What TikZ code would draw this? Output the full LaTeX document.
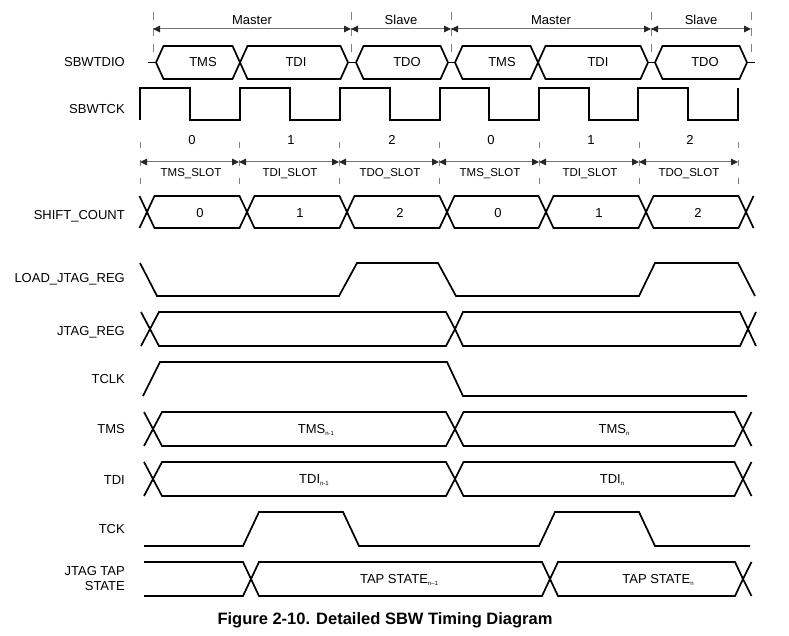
\documentclass[tikz,border=0pt]{standalone}
\usepackage{fontspec}
\setmainfont{Liberation Sans}
\usetikzlibrary{arrows.meta}
\newcommand{\bushex}[5]{%
  \draw[sig] (#1,{(#3+#4)/2}) -- ({#1+#5},#3) -- ({#2-#5},#3) -- (#2,{(#3+#4)/2}) -- ({#2-#5},#4) -- ({#1+#5},#4) -- cycle;}
\newcommand{\busl}[4]{% left arms at centre #1
  \draw[sig] ({#1-#4},#2) -- (#1,{(#2+#3)/2}) -- ({#1-#4},#3);}
\newcommand{\busr}[4]{% right arms at centre #1
  \draw[sig] ({#1+#4},#2) -- (#1,{(#2+#3)/2}) -- ({#1+#4},#3);}
\newcommand{\sbs}[1]{\raisebox{-2.2pt}{\fontsize{6}{6}\selectfont #1}}
\begin{document}
\begin{tikzpicture}[x=1pt,y=-1pt,
  sig/.style={line width=1.7pt, black, line join=miter},
  dashv/.style={gray, line width=0.9pt, dash pattern=on 8pt off 8pt},
  dashs/.style={gray, line width=0.9pt, dash pattern=on 6pt off 12pt},
  dim/.style={line width=1pt, draw=black!55, {Triangle[length=7pt,width=6.5pt,black!85]}-{Triangle[length=7pt,width=6.5pt,black!85]}},
  lbl/.style={anchor=east, font=\fontsize{13}{15}\selectfont, inner sep=0pt, text depth=0pt},
  txt/.style={font=\fontsize{13}{15}\selectfont, inner sep=0pt, text depth=0pt},
  smalltxt/.style={font=\fontsize{11.5}{13}\selectfont, inner sep=0pt, text depth=0pt}]
\useasboundingbox (0,0) rectangle (789,636);

% ---------- row labels ----------
\node[lbl] (lSBWTDIO) at (125,62) {SBWTDIO};
\node[lbl] (lSBWTCK) at (125,109) {SBWTCK};
\node[lbl] (lSHIFT) at (125,215) {SHIFT\_COUNT};
\node[lbl] (lLOAD) at (125,278) {LOAD\_JTAG\_REG};
\node[lbl] (lJREG) at (125,331) {JTAG\_REG};
\node[lbl] (lTCLK) at (125,379) {TCLK};
\node[lbl] (lTMS) at (125,429) {TMS};
\node[lbl] (lTDI) at (125,480) {TDI};
\node[lbl] (lTCK) at (125,529) {TCK};
\node[lbl, align=right] (lTAP) at (125,578) {JTAG TAP\\STATE};

% ---------- Master / Slave dimension ----------
\foreach \x in {153,351,451,651,751} \draw[dashv] (\x,12) -- (\x,54);
\draw[dim] (153,29) -- (351,29);
\draw[dim] (351,29) -- (451,29);
\draw[dim] (451,29) -- (651,29);
\draw[dim] (651,29) -- (751,29);
\node[txt] (m1) at (252,20) {Master};
\node[txt] (s1) at (401,20) {Slave};
\node[txt] (m2) at (551,20) {Master};
\node[txt] (s2) at (701,20) {Slave};

% ---------- SBWTDIO ----------
\draw[sig] (148,62.5) -- (156,62.5);
\bushex{156}{240}{46}{79}{7.5}
\bushex{240}{348}{46}{79}{7.5}
\draw[sig] (348,62.5) -- (356,62.5);
\bushex{356}{448}{46}{79}{7.5}
\draw[sig] (448,62.5) -- (455,62.5);
\bushex{455}{538}{46}{79}{7.5}
\bushex{538}{648}{46}{79}{7.5}
\draw[sig] (648,62.5) -- (655,62.5);
\bushex{655}{747}{46}{79}{7.5}
\draw[sig] (747,62.5) -- (755,62.5);
\node[txt] (d1) at (203,62) {TMS};
\node[txt] (d2) at (296,62) {TDI};
\node[txt] (d3) at (407,62) {TDO};
\node[txt] (d4) at (502,62) {TMS};
\node[txt] (d5) at (598,62) {TDI};
\node[txt] (d6) at (705,62) {TDO};

% ---------- SBWTCK ----------
\draw[sig] (140,120)--(140,88)--(190,88)--(190,120)--(240,120)--(240,88)--(290,88)--(290,120)
  --(340,120)--(340,88)--(390,88)--(390,120)--(440,120)--(440,88)--(489,88)--(489,120)
  --(539,120)--(539,88)--(589,88)--(589,120)--(638,120)--(638,88)--(688,88)--(688,120)
  --(738,120)--(738,88);

% ---------- slots ----------
\node[txt] (n1) at (192,140) {0};
\node[txt] (n2) at (291,140) {1};
\node[txt] (n3) at (392,140) {2};
\node[txt] (n4) at (491,140) {0};
\node[txt] (n5) at (591,140) {1};
\node[txt] (n6) at (690,140) {2};
\foreach \x in {140,239,339,439,539,639,738} \draw[dashs] (\x,142) -- (\x,184);
\draw[dim] (140,162) -- (239,162);
\draw[dim] (239,162) -- (339,162);
\draw[dim] (339,162) -- (439,162);
\draw[dim] (439,162) -- (539,162);
\draw[dim] (539,162) -- (639,162);
\draw[dim] (639,162) -- (738,162);
\node[smalltxt] (t1) at (191,172) {TMS\_SLOT};
\node[smalltxt] (t2) at (290,172) {TDI\_SLOT};
\node[smalltxt] (t3) at (390,172) {TDO\_SLOT};
\node[smalltxt] (t4) at (490,172) {TMS\_SLOT};
\node[smalltxt] (t5) at (590,172) {TDI\_SLOT};
\node[smalltxt] (t6) at (689,172) {TDO\_SLOT};

% ---------- SHIFT_COUNT ----------
\busl{147}{196}{228}{7.5}
\bushex{147}{247}{196}{228}{7.5}
\bushex{247}{347}{196}{228}{7.5}
\bushex{347}{447}{196}{228}{7.5}
\bushex{447}{546}{196}{228}{7.5}
\bushex{546}{646}{196}{228}{7.5}
\bushex{646}{746}{196}{228}{7.5}
\busr{746}{196}{228}{7.5}
\node[txt] (c1) at (200,213) {0};
\node[txt] (c2) at (300,213) {1};
\node[txt] (c3) at (400,213) {2};
\node[txt] (c4) at (498,213) {0};
\node[txt] (c5) at (599,213) {1};
\node[txt] (c6) at (698,213) {2};

% ---------- LOAD_JTAG_REG ----------
\draw[sig] (140,263)--(157,296)--(339,296)--(357,263)--(438,263)--(456,296)--(639,296)
  --(655,263)--(738,263)--(755,296);

% ---------- JTAG_REG ----------
\busl{150}{312}{346}{9}
\bushex{150}{455}{312}{346}{9}
\bushex{455}{748}{312}{346}{8}
\busr{748}{312}{346}{8}

% ---------- TCLK ----------
\draw[sig] (143,396)--(160,362)--(447,362)--(463,396)--(747,396);

% ---------- TMS ----------
\busl{153}{412}{446}{9}
\bushex{153}{455}{412}{446}{9}
\bushex{455}{743}{412}{446}{8.5}
\busr{743}{412}{446}{8.5}
\node[txt] (vtms1) at (316,429) {TMS\sbs{n-1}};
\node[txt] (vtms2) at (614,429) {TMS\sbs{n}};

% ---------- TDI ----------
\busl{153}{462}{496}{9}
\bushex{153}{455}{462}{496}{9}
\bushex{455}{743}{462}{496}{8.5}
\busr{743}{462}{496}{8.5}
\node[txt] (vtdi1) at (314,479) {TDI\sbs{n-1}};
\node[txt] (vtdi2) at (612,479) {TDI\sbs{n}};

% ---------- TCK ----------
\draw[sig] (144,546)--(243,546)--(259,512)--(343,512)--(359,546)--(539,546)--(555,512)
  --(639,512)--(655,546)--(750,546);

% ---------- JTAG TAP STATE ----------
\draw[sig] (144,562) -- (243,562) -- (251,579) -- (243,596) -- (144,596);
\bushex{251}{550}{562}{596}{8}
\bushex{550}{743}{562}{596}{8}
\busr{743}{562}{596}{8.5}
\node[txt] (vtap1) at (399,579) {TAP STATE\sbs{n–1}};
\node[txt] (vtap2) at (658,579) {TAP STATE\sbs{n}};

% ---------- caption ----------
\node[font=\fontsize{16.5}{18}\selectfont\bfseries, inner sep=0pt, text depth=0pt] (cap) at (385,619)
  {Figure 2-10. Detailed SBW Timing Diagram};
\end{tikzpicture}
\end{document}
